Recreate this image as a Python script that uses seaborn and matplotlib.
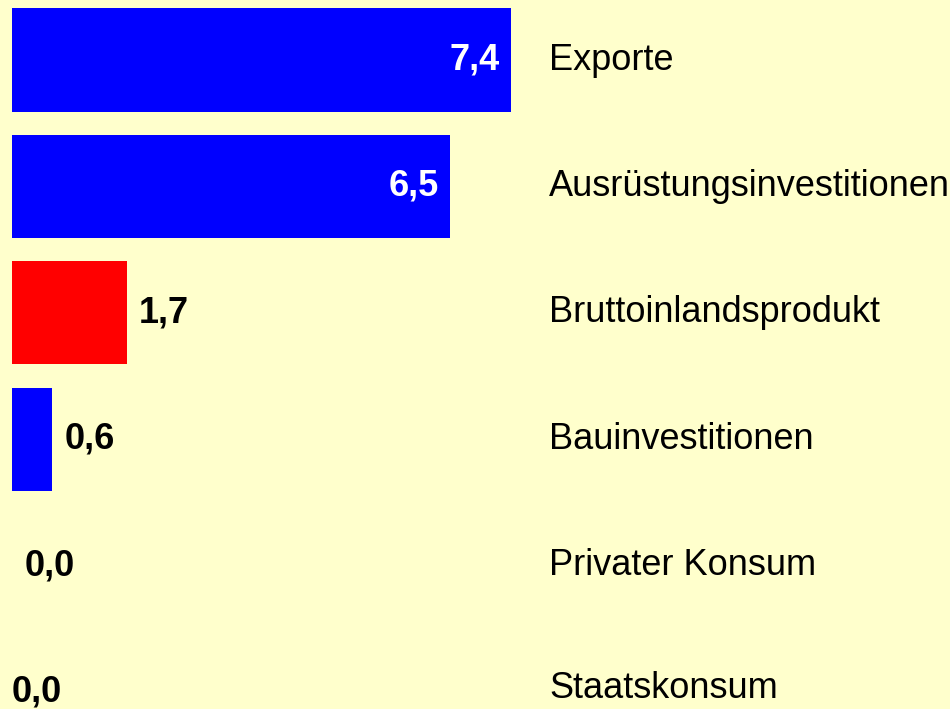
import matplotlib
matplotlib.use("Agg")
import matplotlib.pyplot as plt
import seaborn as sns
import pandas as pd

# data
categories = ["Exporte", "Ausrüstungsinvestitionen", "Bruttoinlandsprodukt",
              "Bauinvestitionen", "Privater Konsum", "Staatskonsum"]
values = [7.4, 6.5, 1.7, 0.6, 0.0, 0.0]
colors = ["#0000FF", "#0000FF", "#FF0000", "#0000FF", "#0000FF", "#0000FF"]

df = pd.DataFrame({"Kategorie": categories, "Wert": values})

sns.set_style("white")
plt.rcParams["font.family"] = ["Liberation Sans", "DejaVu Sans"]

fig = plt.figure(figsize=(9.5, 7.09), dpi=100)
fig.patch.set_facecolor("#FFFFCC")
ax = fig.add_axes([12 / 950, 0, 1 - 12 / 950, 1])
ax.set_facecolor("#FFFFCC")

sns.barplot(data=df, x="Wert", y="Kategorie", hue="Kategorie",
            palette=colors, legend=False, width=0.815, saturation=1,
            linewidth=0, orient="h", ax=ax)

ax.set_xlim(0, 938 / 67.4)
ax.set_ylim(5 + 17 / 126.4, -60 / 126.4)
ax.axis("off")

# value labels
for i, v in enumerate(values):
    txt = f"{v:.1f}".replace(".", ",")
    if v > 5:
        ax.annotate(txt, (v, i), xytext=(-8, 0), textcoords="offset points",
                    ha="right", va="center", color="white",
                    fontsize=26, fontweight="bold")
    else:
        dx = 0 if i == len(values) - 1 else 9
        ax.annotate(txt, (v, i), xytext=(dx, 0), textcoords="offset points",
                    ha="left", va="center", color="black",
                    fontsize=26, fontweight="bold")

# category names
for i, c in enumerate(categories):
    ax.text(537 / 67.4, i - (0.03 if i == len(categories) - 1 else 0), c,
            ha="left", va="center", fontsize=26, color="black")

fig.savefig("out.png", dpi=100, facecolor=fig.get_facecolor())
